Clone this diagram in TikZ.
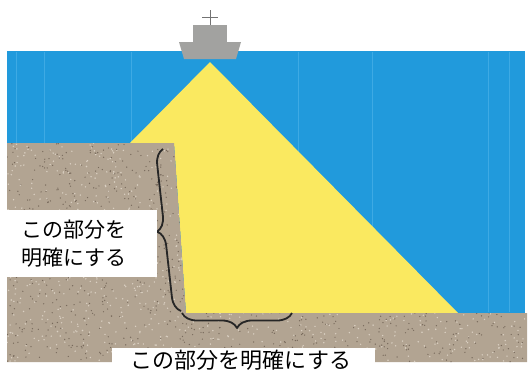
\documentclass[tikz,border=0pt]{standalone}
\usepackage{fontspec}
\newfontfamily\jpfont{Noto Sans CJK JP}
\usetikzlibrary{decorations.pathreplacing}

\definecolor{sea}{RGB}{33,154,220}
\definecolor{seastreak}{RGB}{92,186,236}
\definecolor{beam}{RGB}{250,233,96}
\definecolor{soil}{RGB}{178,164,146}
\definecolor{soildark}{RGB}{120,106,92}
\definecolor{soillight}{RGB}{218,208,194}
\definecolor{hull}{RGB}{162,162,160}

\begin{document}
\begin{tikzpicture}[x=1pt,y=-1pt,line join=round,
                    font=\jpfont\fontsize{21}{28}\selectfont]
  \tikzstyle{callout}=[fill=white,inner sep=0pt]
  \tikzstyle{curly}=[decorate,decoration={brace,amplitude=15pt},
                     line width=1.8pt,draw=black!85]

  \useasboundingbox (0,0) rectangle (529,372);
  \fill[white] (0,0) rectangle (529,372);

  \coordinate (apex)  at (210,62);
  \coordinate (edge)  at (130,143);
  \coordinate (crest) at (174,143);
  \coordinate (toe)   at (186,313);
  \coordinate (reach) at (458,313);

  % sea
  \fill[sea] (7,51) rectangle (525,313);
  \foreach \sx in {16,44,131,298,372,488,509}
    \draw[seastreak,opacity=0.5,line width=0.8pt] (\sx,52) -- (\sx,312);

  % sound beam
  \fill[beam] (apex) -- (edge) -- (crest) -- (toe) -- (reach) -- cycle;

  % ground with grain
  \fill[soil] (7,143) -- (crest) -- (toe) -- (527,313) -- (527,362)
              -- (7,362) -- cycle;
  \begin{scope}
    \clip (7,143) -- (crest) -- (toe) -- (527,313) -- (527,362)
          -- (7,362) -- cycle;
    \pgfmathsetseed{11}
    \foreach \i in {1,...,1400}{
      \pgfmathsetmacro{\px}{7+520*rnd}
      \pgfmathsetmacro{\py}{143+219*rnd}
      \fill[soildark] (\px,\py) circle (0.7pt);
      \pgfmathsetmacro{\qx}{7+520*rnd}
      \pgfmathsetmacro{\qy}{143+219*rnd}
      \fill[soillight] (\qx,\qy) circle (0.8pt);
    }
  \end{scope}

  % ship
  \fill[hull] (179,42) -- (241,42) -- (236,59) -- (184,59) -- cycle;
  \fill[hull] (193,25) rectangle (227,42);
  \draw[black!55,line width=0.8pt] (210,10) -- (210,25) (202,17) -- (218,17);

  % braces
  \coordinate (wallB) at (181,311);
  \coordinate (wallT) at (163,149);
  \coordinate (footL) at (182,313);
  \coordinate (footR) at (292,313);
  \draw[curly] (wallB) -- (wallT);
  \draw[curly] (footR) -- (footL);

  % labels
  \node[callout,anchor=north west,minimum width=157pt,minimum height=67pt,
        inner xsep=21pt,text width=115pt,align=left] (side) at (0,210)
        {この部分を\\明確にする};
  \node[callout,anchor=north west,minimum width=263pt,minimum height=40pt,
        inner ysep=5pt] (foot) at (112,348) {};
  \node[anchor=north,inner sep=0pt,font=\jpfont\fontsize{22}{26}\selectfont]
        (foottext) at (241,350) {この部分を明確にする};
\end{tikzpicture}
\end{document}
